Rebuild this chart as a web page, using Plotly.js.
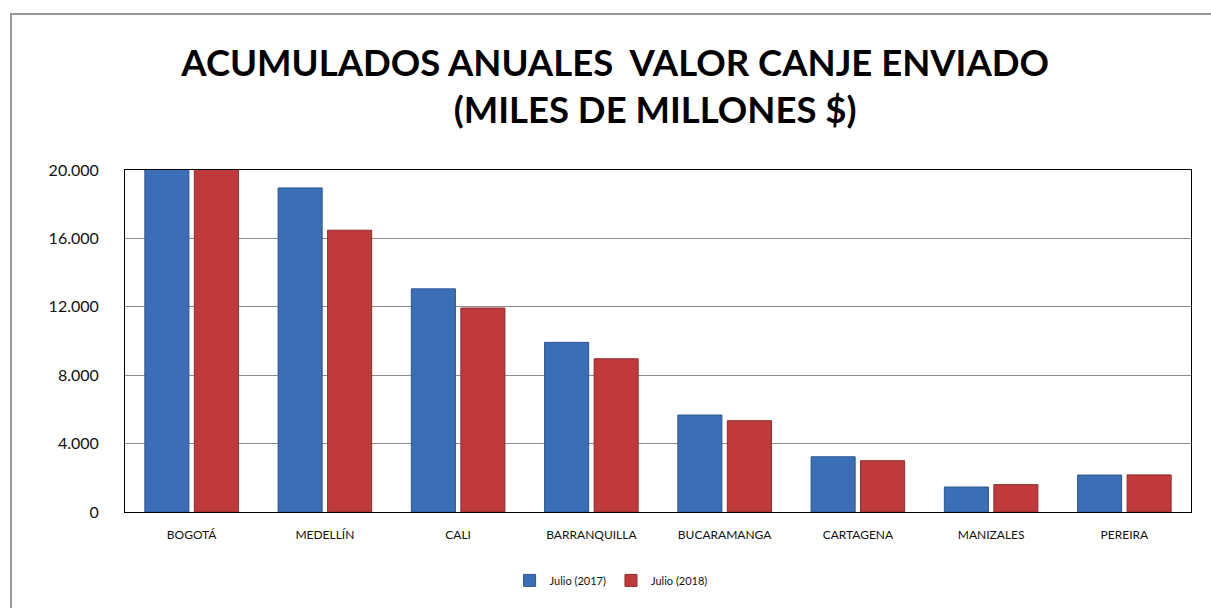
<!DOCTYPE html>
<html>
<head>
<meta charset="utf-8">
<script src="https://cdn.plot.ly/plotly-3.0.1.min.js"></script>
<style>
  body { margin: 0; background: #fff; }
  #plot { width: 1211px; height: 608px; }
  #frame {
    position: absolute; left: 10px; top: 13px; width: 1300px; height: 700px;
    border-left: 2px solid #9a9a9a; border-top: 2px solid #9a9a9a;
    pointer-events: none;
  }
</style>
</head>
<body>
<div id="plot"></div>
<div id="frame"></div>
<script>
// cities and yearly totals (miles de millones $)
let cities = ['BOGOTÁ', 'MEDELLÍN', 'CALI', 'BARRANQUILLA', 'BUCARAMANGA', 'CARTAGENA', 'MANIZALES', 'PEREIRA'];
let julio2017 = [24500, 18950, 13050, 9920, 5670, 3230, 1460, 2160];
let julio2018 = [25500, 16480, 11930, 8960, 5340, 3000, 1600, 2170];
let yTicks = [0, 4000, 8000, 12000, 16000, 20000];

let trace1 = {
    x: cities,
    y: julio2017,
    name: 'Julio (2017)',
    type: 'bar',
    marker: { color: '#3a6fb7', line: { color: '#2b5590', width: 1 } },
};

let trace2 = {
    x: cities,
    y: julio2018,
    name: 'Julio (2018)',
    type: 'bar',
    marker: { color: '#c13a3b', line: { color: '#8f2a2b', width: 1 } },
};

let data = [trace1, trace2];

let nb = '\u00a0'.repeat(9);

let layout = {
    width: 1211,
    height: 608,
    font: { family: 'Lato, sans-serif', color: '#111' },
    separators: ',.',
    title: {
        text: '<b>ACUMULADOS ANUALES  VALOR CANJE ENVIADO<br>' + nb + '(MILES DE MILLONES $)</b>',
        font: { size: 36.5, color: '#000' },
        x: 0.508,
        xanchor: 'center',
        y: 0.875,
        yanchor: 'middle',
    },
    margin: { l: 125, r: 20, t: 170, b: 96 },
    barmode: 'group',
    bargap: 0.257,
    bargroupgap: 0.11,
    showlegend: true,
    legend: {
        orientation: 'h',
        x: 0.456,
        xanchor: 'center',
        y: -0.2,
        yanchor: 'middle',
        font: { size: 11 },
        itemwidth: 30,
    },
    xaxis: {
        showline: true,
        linecolor: '#000',
        linewidth: 1,
        mirror: true,
        tickfont: { size: 12 },
        ticklabelstandoff: 12,
    },
    yaxis: {
        range: [0, 20000],
        tickvals: yTicks,
        tickformat: ',',
        showline: true,
        linecolor: '#000',
        linewidth: 1,
        mirror: true,
        showgrid: true,
        gridcolor: '#8c8c8c',
        gridwidth: 1,
        zeroline: false,
        tickfont: { size: 16 },
        ticklabelstandoff: 22,
    },
    plot_bgcolor: '#fff',
    paper_bgcolor: '#fff',
};

Plotly.newPlot('plot', data, layout, { displayModeBar: false });
</script>
</body>
</html>
